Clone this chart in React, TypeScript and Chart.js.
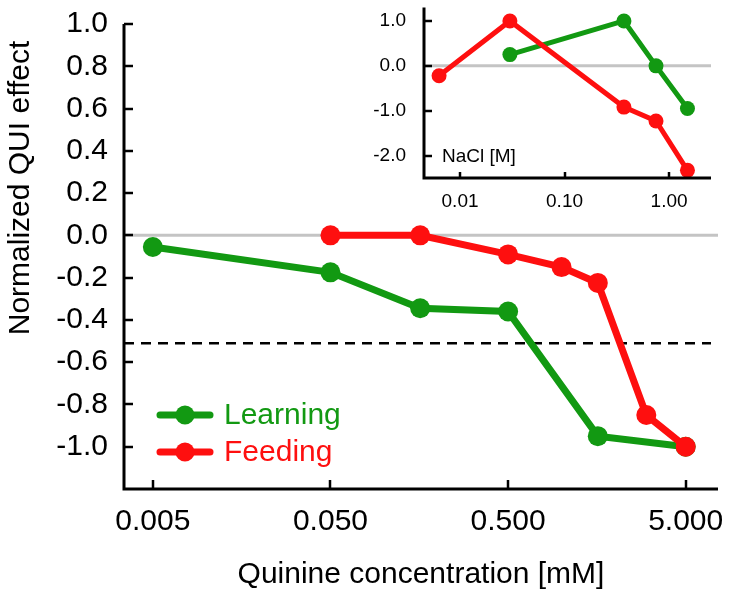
import { useEffect, useRef } from 'react';
import { Chart, registerables } from 'chart.js';

Chart.register(...registerables);

// ---- Data ----
const seriesNames = ['Learning', 'Feeding'];

const quinineLearningX = [0.005, 0.05, 0.16, 0.5, 1.6, 5];
const quinineLearningY = [-0.055, -0.175, -0.345, -0.36, -0.95, -1.0];
const quinineFeedingX = [0.05, 0.16, 0.5, 1.0, 1.6, 3.0, 5];
const quinineFeedingY = [0.0, 0.0, -0.09, -0.15, -0.225, -0.85, -1.0];

const naclLearningX = [0.03, 0.37, 0.75, 1.5];
const naclLearningY = [0.25, 1.0, 0.0, -0.95];
const naclFeedingX = [0.0063, 0.03, 0.37, 0.75, 1.5];
const naclFeedingY = [-0.22, 1.0, -0.92, -1.23, -2.33];

const mainXTicks = [0.005, 0.05, 0.5, 5];
const mainXTickLabels = ['0.005', '0.050', '0.500', '5.000'];
const mainYTicks = [-1.0, -0.8, -0.6, -0.4, -0.2, 0.0, 0.2, 0.4, 0.6, 0.8, 1.0];
const mainYTickLabels = ['-1.0', '-0.8', '-0.6', '-0.4', '-0.2', '0.0', '0.2', '0.4', '0.6', '0.8', '1.0'];
const insetXTicks = [0.01, 0.1, 1];
const insetXTickLabels = ['0.01', '0.10', '1.00'];
const insetYTicks = [-2.0, -1.0, 0.0, 1.0];
const insetYTickLabels = ['-2.0', '-1.0', '0.0', '1.0'];
const thresholdValue = -0.51;

const mainXTitle = 'Quinine concentration [mM]';
const mainYTitle = 'Normalized QUI effect';
const insetLabel = 'NaCl [M]';

// ---- Styles ----
const GREEN = '#129912';
const RED = '#fe0f0f';
const FONT = "'Liberation Sans', Arial, Helvetica, sans-serif";
const MAIN_FONT_SIZE = 30;
const INSET_FONT_SIZE = 19;

const toPoints = (xs: number[], ys: number[]) => xs.map((x, i) => ({ x, y: ys[i] }));

type DecorCfg = {
  axisWidth: number;
  tickLenX: number;
  tickLenY: number;
  zeroWidth: number;
  threshold?: number;
};

const makeDecor = (cfg: DecorCfg) => ({
  id: 'decor',
  beforeDatasetsDraw(chart: any) {
    const { ctx, chartArea: ca, scales } = chart;
    const y = scales.y;
    ctx.save();
    const y0 = y.getPixelForValue(0);
    ctx.strokeStyle = '#c4c4c4';
    ctx.lineWidth = cfg.zeroWidth;
    ctx.beginPath();
    ctx.moveTo(ca.left, y0);
    ctx.lineTo(ca.right, y0);
    ctx.stroke();
    if (cfg.threshold !== undefined) {
      const yt = y.getPixelForValue(cfg.threshold);
      ctx.setLineDash([10, 7]);
      ctx.strokeStyle = '#000';
      ctx.lineWidth = 2.5;
      ctx.beginPath();
      ctx.moveTo(ca.left, yt);
      ctx.lineTo(ca.right - 7, yt);
      ctx.stroke();
      ctx.setLineDash([]);
    }
    ctx.restore();
  },
  afterDatasetsDraw(chart: any) {
    const { ctx, chartArea: ca, scales } = chart;
    const { x, y } = scales;
    ctx.save();
    ctx.strokeStyle = '#000';
    ctx.lineWidth = cfg.axisWidth;
    ctx.lineJoin = 'miter';
    ctx.beginPath();
    ctx.moveTo(ca.left, ca.top);
    ctx.lineTo(ca.left, ca.bottom);
    ctx.lineTo(ca.right, ca.bottom);
    ctx.stroke();
    ctx.lineWidth = cfg.axisWidth - 0.5;
    y.ticks.forEach((t: any) => {
      const p = Math.round(y.getPixelForValue(t.value));
      ctx.beginPath();
      ctx.moveTo(ca.left, p);
      ctx.lineTo(ca.left + cfg.tickLenY, p);
      ctx.stroke();
    });
    x.ticks.forEach((t: any) => {
      const p = Math.round(x.getPixelForValue(t.value));
      ctx.beginPath();
      ctx.moveTo(p, ca.bottom);
      ctx.lineTo(p, ca.bottom - cfg.tickLenX);
      ctx.stroke();
    });
    ctx.restore();
  },
});

const legendPlugin = {
  id: 'customLegend',
  afterDraw(chart: any) {
    const { ctx } = chart;
    const items = [
      { label: seriesNames[0], color: GREEN, y: 415 },
      { label: seriesNames[1], color: RED, y: 452 },
    ];
    ctx.save();
    items.forEach((it) => {
      ctx.strokeStyle = it.color;
      ctx.fillStyle = it.color;
      ctx.lineWidth = 7;
      ctx.lineCap = 'round';
      ctx.beginPath();
      ctx.moveTo(160, it.y);
      ctx.lineTo(210, it.y);
      ctx.stroke();
      ctx.beginPath();
      ctx.arc(185, it.y, 9.5, 0, Math.PI * 2);
      ctx.fill();
      ctx.font = `${MAIN_FONT_SIZE}px ${FONT}`;
      ctx.textBaseline = 'middle';
      ctx.textAlign = 'left';
      ctx.fillText(it.label, 224, it.y + 1);
    });
    ctx.restore();
  },
};

const yTitlePlugin = {
  id: 'yTitle',
  afterDraw(chart: any) {
    const { ctx } = chart;
    ctx.save();
    ctx.translate(21, 188);
    ctx.rotate(-Math.PI / 2);
    ctx.fillStyle = '#000';
    ctx.font = `${MAIN_FONT_SIZE}px ${FONT}`;
    ctx.textAlign = 'center';
    ctx.textBaseline = 'middle';
    ctx.fillText(mainYTitle, 0, 0);
    ctx.restore();
  },
};

const insetLabelPlugin = {
  id: 'insetLabel',
  afterDraw(chart: any) {
    const { ctx, chartArea: ca, scales } = chart;
    ctx.save();
    ctx.fillStyle = '#000';
    ctx.font = `${INSET_FONT_SIZE}px ${FONT}`;
    ctx.textBaseline = 'middle';
    ctx.textAlign = 'left';
    ctx.fillText(insetLabel, ca.left + 18, scales.y.getPixelForValue(-2.0) + 1);
    ctx.restore();
  },
};

const zeroPad = (s: any) => {
  s.paddingLeft = 0;
  s.paddingRight = 0;
  s.paddingTop = 0;
  s.paddingBottom = 0;
};

export default function App() {
  const mainRef = useRef<HTMLCanvasElement>(null);
  const insetRef = useRef<HTMLCanvasElement>(null);

  useEffect(() => {
    Chart.defaults.color = '#000';
    Chart.defaults.font.family = FONT;

    const main = new Chart(mainRef.current!, {
      type: 'line',
      data: {
        datasets: [
          {
            label: seriesNames[1],
            data: toPoints(quinineFeedingX, quinineFeedingY),
            borderColor: RED,
            backgroundColor: RED,
            borderWidth: 7,
            pointRadius: 10,
            pointHoverRadius: 10,
            pointBorderWidth: 0,
            order: 0,
            clip: false,
          },
          {
            label: seriesNames[0],
            data: toPoints(quinineLearningX, quinineLearningY),
            borderColor: GREEN,
            backgroundColor: GREEN,
            borderWidth: 7,
            pointRadius: 10,
            pointHoverRadius: 10,
            pointBorderWidth: 0,
            order: 1,
            clip: false,
          },
        ],
      },
      options: {
        animation: false,
        responsive: false,
        events: [],
        layout: { padding: { top: 24, right: 12, left: 0, bottom: 0 } },
        plugins: { legend: { display: false }, tooltip: { enabled: false } },
        scales: {
          x: {
            type: 'logarithmic',
            min: 0.00344,
            max: 7.6,
            grid: { display: false, drawTicks: false },
            border: { display: false },
            afterBuildTicks: (s: any) => {
              s.ticks = mainXTicks.map((v) => ({ value: v }));
            },
            afterFit: (s: any) => {
              s.height = 113;
              zeroPad(s);
            },
            ticks: {
              autoSkip: false,
              maxRotation: 0,
              padding: 15,
              font: { size: MAIN_FONT_SIZE, family: FONT },
              color: '#000',
              callback: (_v: any, i: number) => mainXTickLabels[i],
            },
            title: {
              display: true,
              text: mainXTitle,
              font: { size: MAIN_FONT_SIZE, family: FONT },
              color: '#000',
              padding: { top: 0, bottom: 9 },
            },
          },
          y: {
            type: 'linear',
            min: -1.2,
            max: 1.0,
            grid: { display: false, drawTicks: false },
            border: { display: false },
            afterBuildTicks: (s: any) => {
              s.ticks = mainYTicks.map((v) => ({ value: v }));
            },
            afterFit: (s: any) => {
              s.width = 124;
              zeroPad(s);
            },
            ticks: {
              autoSkip: false,
              padding: 16,
              font: { size: MAIN_FONT_SIZE, family: FONT },
              color: '#000',
              callback: (_v: any, i: number) => mainYTickLabels[i],
            },
          },
        },
      },
      plugins: [
        makeDecor({ axisWidth: 3, tickLenX: 9, tickLenY: 9, zeroWidth: 3, threshold: thresholdValue }),
        legendPlugin,
        yTitlePlugin,
      ],
    } as any);

    const inset = new Chart(insetRef.current!, {
      type: 'line',
      data: {
        datasets: [
          {
            label: seriesNames[1],
            data: toPoints(naclFeedingX, naclFeedingY),
            borderColor: RED,
            backgroundColor: RED,
            borderWidth: 5,
            pointRadius: 7.5,
            pointHoverRadius: 7.5,
            pointBorderWidth: 0,
            order: 0,
            clip: false,
          },
          {
            label: seriesNames[0],
            data: toPoints(naclLearningX, naclLearningY),
            borderColor: GREEN,
            backgroundColor: GREEN,
            borderWidth: 5,
            pointRadius: 7.5,
            pointHoverRadius: 7.5,
            pointBorderWidth: 0,
            order: 1,
            clip: false,
          },
        ],
      },
      options: {
        animation: false,
        responsive: false,
        events: [],
        layout: { padding: { top: 7, right: 19, left: 0, bottom: 0 } },
        plugins: { legend: { display: false }, tooltip: { enabled: false } },
        scales: {
          x: {
            type: 'logarithmic',
            min: 0.00452,
            max: 2.52,
            grid: { display: false, drawTicks: false },
            border: { display: false },
            afterBuildTicks: (s: any) => {
              s.ticks = insetXTicks.map((v) => ({ value: v }));
            },
            afterFit: (s: any) => {
              s.height = 52;
              zeroPad(s);
            },
            ticks: {
              autoSkip: false,
              maxRotation: 0,
              padding: 12,
              font: { size: INSET_FONT_SIZE, family: FONT },
              color: '#000',
              callback: (_v: any, i: number) => insetXTickLabels[i],
            },
          },
          y: {
            type: 'linear',
            min: -2.5,
            max: 1.3,
            grid: { display: false, drawTicks: false },
            border: { display: false },
            afterBuildTicks: (s: any) => {
              s.ticks = insetYTicks.map((v) => ({ value: v }));
            },
            afterFit: (s: any) => {
              s.width = 84;
              zeroPad(s);
            },
            ticks: {
              autoSkip: false,
              padding: 18,
              font: { size: INSET_FONT_SIZE, family: FONT },
              color: '#000',
              callback: (_v: any, i: number) => insetYTickLabels[i],
            },
          },
        },
      },
      plugins: [makeDecor({ axisWidth: 3, tickLenX: 6, tickLenY: 8, zeroWidth: 3 }), insetLabelPlugin],
    } as any);

    return () => {
      main.destroy();
      inset.destroy();
    };
  }, []);

  return (
    <div style={{ position: 'absolute', left: 0, top: 0, width: 730, height: 602, background: '#fff' }}>
      <canvas ref={mainRef} width={730} height={602} style={{ position: 'absolute', left: 0, top: 0 }} />
      <canvas ref={insetRef} width={390} height={230} style={{ position: 'absolute', left: 340, top: 0 }} />
    </div>
  );
}
